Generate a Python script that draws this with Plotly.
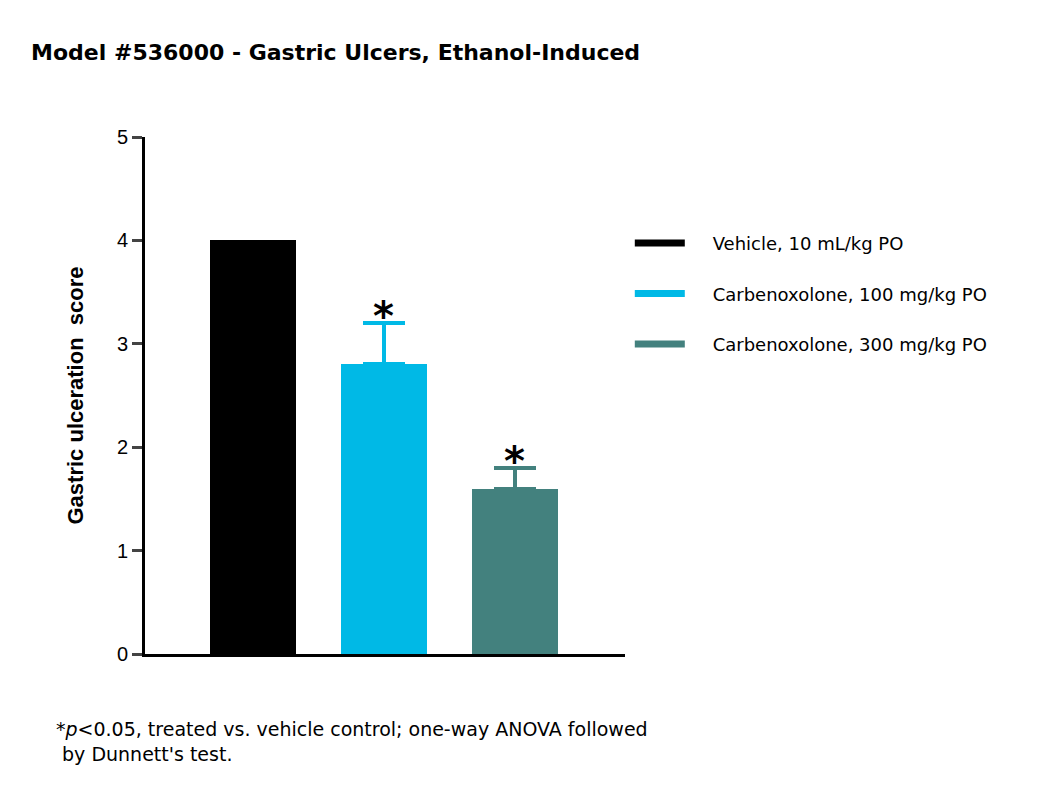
import plotly.graph_objects as go

groups = ["Vehicle, 10 mL/kg PO", "Carbenoxolone, 100 mg/kg PO", "Carbenoxolone, 300 mg/kg PO"]
scores = [4.0, 2.8, 1.6]
sem_up = [0.0, 0.4, 0.2]
significant = [False, True, True]
colors = ["#000000", "#00B9E6", "#43817E"]

fig = go.Figure()
for i, (g, v, e, c) in enumerate(zip(groups, scores, sem_up, colors)):
    fig.add_trace(go.Bar(
        x=[i], y=[v], width=0.66, marker=dict(color=c, line=dict(width=0)),
        error_y=dict(type="data", array=[e], arrayminus=[0], symmetric=False,
                     color=c, thickness=4, width=21, visible=e > 0),
        showlegend=False,
    ))
    fig.add_trace(go.Scatter(
        x=[None], y=[None], mode="lines", name="    " + g, legendgroup=g,
        line=dict(color=c, width=7),
    ))
    if significant[i]:
        fig.add_annotation(x=i, y=v + e, text="<b>*</b>", showarrow=False,
                           yanchor="bottom", yshift=-18, font=dict(size=40, color="black"))

fig.add_annotation(xref="paper", yref="paper", x=-0.19, y=-0.12, xanchor="left", yanchor="top",
                   align="left", showarrow=False,
                   text="*<i>p</i><0.05, treated vs. vehicle control; one-way ANOVA followed<br> by Dunnett's test.",
                   font=dict(size=19, color="black"))

fig.update_layout(
    width=1050, height=803,
    paper_bgcolor="white", plot_bgcolor="white",
    font=dict(family="DejaVu Sans, Arial, sans-serif", color="black"),
    title=dict(text="<b>Model #536000 - Gastric Ulcers, Ethanol-Induced</b>",
               x=0.022, xanchor="left", y=0.945, yanchor="middle", font=dict(size=22)),
    margin=dict(l=137, r=433, t=129, b=157),
    legend=dict(x=1.01, y=0.83, xanchor="left", yanchor="top", tracegroupgap=24,
                font=dict(size=18), itemwidth=50, bgcolor="rgba(0,0,0,0)"),
    xaxis=dict(range=[-0.824, 2.84], showticklabels=False, ticks="", showgrid=False,
               zeroline=False, showline=True, linecolor="black", linewidth=3),
    yaxis=dict(range=[0, 5], dtick=1, ticks="outside", ticklen=10, tickwidth=3,
               showgrid=False, zeroline=False, showline=True, linecolor="black", linewidth=3,
               tickfont=dict(family="Liberation Sans, Arial, sans-serif", size=20),
               title=dict(text="<b>Gastric ulceration  score</b>",
                          font=dict(family="Liberation Sans, Arial, sans-serif", size=22), standoff=28)),
    bargap=0,
)

fig.write_html("out.html")
